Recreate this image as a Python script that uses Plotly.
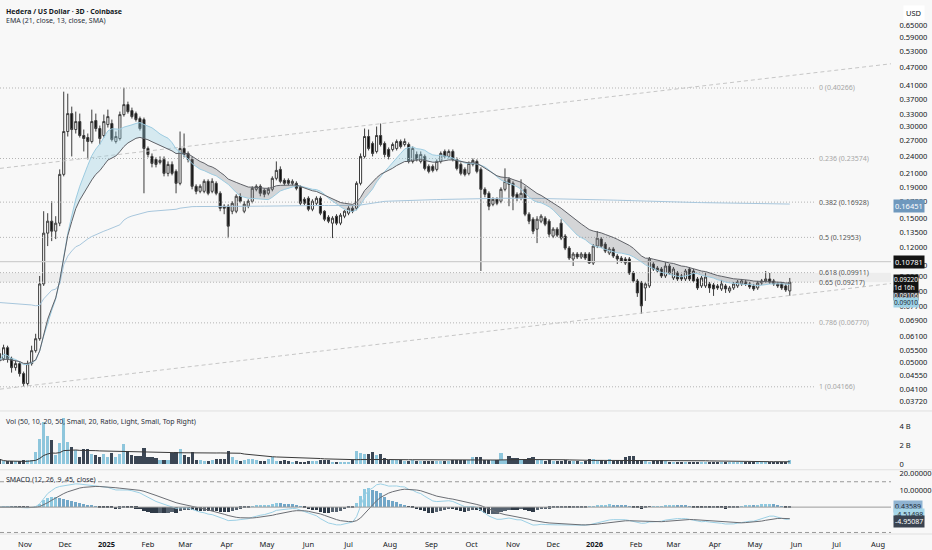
import numpy as np
import pandas as pd
import plotly.graph_objects as go
from plotly.subplots import make_subplots

# 3D candles, Coinbase HBAR/USD
opens = [
    0.05357, 0.05159, 0.05606, 0.05159, 0.04819, 0.04967, 0.04605, 0.04270, 0.04967, 0.05480,
    0.06001, 0.09096, 0.13380, 0.14649, 0.13582, 0.14429, 0.20901, 0.28935, 0.33154, 0.29375,
    0.31208, 0.28072, 0.27651, 0.26827, 0.31444, 0.29598, 0.28072, 0.30507, 0.30739, 0.26827,
    0.27442, 0.32904, 0.35490, 0.33914, 0.33154, 0.31924, 0.31683, 0.25443, 0.23950, 0.23412,
    0.22887, 0.23412, 0.21060, 0.22543, 0.21381, 0.19526, 0.25443, 0.24499, 0.23412, 0.19088,
    0.18380, 0.18380, 0.19824, 0.18380, 0.19526, 0.18104, 0.16409, 0.16409, 0.15800, 0.15800,
    0.17698, 0.15800, 0.16409, 0.17041, 0.18659, 0.19088, 0.18519, 0.18104, 0.18659, 0.20279,
    0.21706, 0.19974, 0.19974, 0.19526, 0.19526, 0.18944, 0.17301, 0.17432, 0.16040, 0.16785,
    0.17432, 0.15800, 0.15098, 0.14429, 0.15213, 0.14429, 0.15213, 0.15563, 0.16162, 0.16162,
    0.19526, 0.23950, 0.27861, 0.26424, 0.24873, 0.28072, 0.26424, 0.25251, 0.25251, 0.25443,
    0.26827, 0.26224, 0.26224, 0.23061, 0.24314, 0.23061, 0.23950, 0.22205, 0.22205, 0.21706,
    0.23061, 0.24873, 0.23950, 0.24873, 0.23412, 0.22543, 0.21706, 0.21060, 0.22543, 0.23061,
    0.21706, 0.18659, 0.18104, 0.16658, 0.17301, 0.17041, 0.18659, 0.20126, 0.19526, 0.17967,
    0.17432, 0.18659, 0.15445, 0.14871, 0.13788, 0.14649, 0.14984, 0.14649, 0.13078, 0.13788,
    0.14429, 0.13078, 0.11943, 0.10990, 0.11413, 0.11157, 0.11413, 0.11413, 0.10662, 0.12125,
    0.12784, 0.12309, 0.11500, 0.11853, 0.11242, 0.11073, 0.10990, 0.10990, 0.09885, 0.09305,
    0.09165, 0.08825, 0.08960, 0.10582, 0.10266, 0.10189, 0.09664, 0.10423, 0.09519, 0.09885,
    0.09664, 0.09447, 0.10189, 0.10036, 0.09447, 0.08960, 0.08960, 0.09096, 0.09028, 0.08960,
    0.08759, 0.08960, 0.08627, 0.08825, 0.08960, 0.09096, 0.09235, 0.09096, 0.08960, 0.08825,
    0.09165, 0.09305, 0.09447, 0.09305, 0.09096, 0.09096, 0.08960, 0.08627,
]
highs = [
    0.05564, 0.05735, 0.05692, 0.05237, 0.05081, 0.05043, 0.04676, 0.05081, 0.05692, 0.06232,
    0.09664, 0.15800, 0.15563, 0.17041, 0.15213, 0.21706, 0.39157, 0.38569, 0.34957, 0.33660,
    0.33154, 0.29375, 0.28500, 0.34172, 0.33154, 0.30277, 0.32904, 0.34172, 0.31683, 0.28935,
    0.33660, 0.40360, 0.36305, 0.34693, 0.33660, 0.32411, 0.32167, 0.25831, 0.24499, 0.23769,
    0.23950, 0.23950, 0.23061, 0.23061, 0.21706, 0.28935, 0.28500, 0.24873, 0.23950, 0.19379,
    0.19379, 0.20126, 0.20126, 0.20279, 0.19824, 0.18380, 0.16658, 0.16658, 0.17041, 0.17967,
    0.18104, 0.17041, 0.17301, 0.19088, 0.19379, 0.19379, 0.18801, 0.18944, 0.20588, 0.23061,
    0.22205, 0.20279, 0.20279, 0.20126, 0.19824, 0.19233, 0.17565, 0.17698, 0.17301, 0.17698,
    0.17698, 0.15920, 0.15329, 0.15213, 0.15445, 0.15563, 0.15920, 0.16409, 0.16409, 0.19824,
    0.24499, 0.29598, 0.29375, 0.26827, 0.30050, 0.30739, 0.26827, 0.25636, 0.26625, 0.27235,
    0.27235, 0.27442, 0.26625, 0.25831, 0.24873, 0.24873, 0.24314, 0.22543, 0.22543, 0.23412,
    0.24873, 0.25251, 0.25251, 0.25251, 0.23769, 0.22887, 0.22038, 0.23061, 0.23590, 0.23412,
    0.22038, 0.18944, 0.18380, 0.17565, 0.17565, 0.18944, 0.21871, 0.20433, 0.19824, 0.18241,
    0.20126, 0.19088, 0.15681, 0.15098, 0.15213, 0.15445, 0.15213, 0.14871, 0.13999, 0.13999,
    0.14871, 0.13277, 0.12125, 0.11587, 0.11587, 0.11587, 0.11587, 0.11587, 0.12309, 0.13582,
    0.12979, 0.12497, 0.12034, 0.12034, 0.11413, 0.11242, 0.11157, 0.11157, 0.10036, 0.09447,
    0.09305, 0.09235, 0.11157, 0.10743, 0.10423, 0.10344, 0.10825, 0.10582, 0.10344, 0.10036,
    0.09811, 0.10189, 0.10344, 0.10189, 0.09591, 0.09664, 0.09885, 0.09235, 0.09165, 0.09096,
    0.09376, 0.09096, 0.08960, 0.09235, 0.09376, 0.09447, 0.09376, 0.09235, 0.09096, 0.09305,
    0.09447, 0.10036, 0.09885, 0.09447, 0.09235, 0.09235, 0.09096, 0.09519,
]
lows = [
    0.05005, 0.05081, 0.05005, 0.04640, 0.04711, 0.04502, 0.04174, 0.04206, 0.04893, 0.05398,
    0.05911, 0.08960, 0.12125, 0.12592, 0.12784, 0.14105, 0.20588, 0.27861, 0.23950, 0.28500,
    0.27651, 0.24873, 0.23412, 0.26424, 0.28935, 0.26224, 0.27651, 0.29823, 0.26827, 0.26424,
    0.27030, 0.32411, 0.33154, 0.31924, 0.31208, 0.29154, 0.18104, 0.23769, 0.22038, 0.22038,
    0.22543, 0.20588, 0.20588, 0.20743, 0.18104, 0.19233, 0.23769, 0.22887, 0.18659, 0.17967,
    0.18104, 0.18104, 0.17832, 0.18104, 0.17832, 0.15800, 0.15445, 0.12881, 0.15445, 0.15563,
    0.16785, 0.15563, 0.16162, 0.16785, 0.18380, 0.17698, 0.17565, 0.17832, 0.18380, 0.19974,
    0.19526, 0.19233, 0.19233, 0.19233, 0.18519, 0.16533, 0.16533, 0.15800, 0.15800, 0.16533,
    0.15329, 0.14649, 0.14429, 0.12881, 0.14212, 0.14212, 0.14984, 0.15329, 0.15563, 0.15920,
    0.19233, 0.23590, 0.25060, 0.23950, 0.24499, 0.25831, 0.23769, 0.23412, 0.24873, 0.25060,
    0.25443, 0.25831, 0.22714, 0.22714, 0.23061, 0.22714, 0.21543, 0.21060, 0.21220, 0.21381,
    0.22714, 0.23590, 0.23590, 0.23061, 0.21543, 0.20743, 0.20588, 0.20743, 0.22205, 0.21060,
    0.10036, 0.17565, 0.15920, 0.16409, 0.16533, 0.16785, 0.18380, 0.16409, 0.15920, 0.17041,
    0.17170, 0.15213, 0.14320, 0.13277, 0.12403, 0.14429, 0.14105, 0.12979, 0.12881, 0.12979,
    0.12688, 0.11763, 0.10907, 0.10423, 0.10990, 0.10990, 0.10907, 0.10582, 0.10502, 0.11943,
    0.11943, 0.11500, 0.11327, 0.11073, 0.10582, 0.10662, 0.10502, 0.09737, 0.09165, 0.08244,
    0.07249, 0.07999, 0.08825, 0.10036, 0.09885, 0.09519, 0.09519, 0.09737, 0.09376, 0.09305,
    0.09305, 0.09305, 0.09305, 0.09165, 0.08693, 0.08825, 0.08825, 0.08497, 0.08307, 0.08693,
    0.08627, 0.08497, 0.08497, 0.08693, 0.08825, 0.08960, 0.08960, 0.08759, 0.08627, 0.08693,
    0.09028, 0.09165, 0.09096, 0.08960, 0.08825, 0.08693, 0.08562, 0.08307,
]
closes = [
    0.05081, 0.05606, 0.05159, 0.04819, 0.04967, 0.04605, 0.04270, 0.04967, 0.05480, 0.06001,
    0.09096, 0.13378, 0.14649, 0.13582, 0.14429, 0.20901, 0.28935, 0.33154, 0.29375, 0.31208,
    0.28072, 0.27442, 0.26827, 0.31208, 0.29598, 0.27442, 0.31208, 0.32411, 0.27235, 0.27861,
    0.32904, 0.35490, 0.33660, 0.32411, 0.31683, 0.29598, 0.25443, 0.24314, 0.22714, 0.22543,
    0.23236, 0.21060, 0.22543, 0.21060, 0.19526, 0.25443, 0.24314, 0.23412, 0.19088, 0.18380,
    0.19088, 0.19824, 0.18104, 0.19824, 0.18104, 0.16162, 0.16162, 0.14105, 0.16785, 0.17698,
    0.17041, 0.16658, 0.17041, 0.18801, 0.19088, 0.18104, 0.17967, 0.18659, 0.20279, 0.21543,
    0.19824, 0.19526, 0.19526, 0.19824, 0.18801, 0.16785, 0.16785, 0.16040, 0.17041, 0.17432,
    0.15563, 0.14871, 0.14649, 0.14984, 0.14429, 0.15329, 0.15800, 0.16162, 0.15800, 0.19526,
    0.23950, 0.27861, 0.25443, 0.24499, 0.28072, 0.26224, 0.24314, 0.23950, 0.26224, 0.26827,
    0.25831, 0.26827, 0.23061, 0.25443, 0.23412, 0.24314, 0.21871, 0.21381, 0.21543, 0.23061,
    0.24499, 0.23950, 0.24873, 0.23412, 0.21871, 0.21060, 0.20901, 0.22714, 0.23236, 0.21381,
    0.18659, 0.17967, 0.16409, 0.17301, 0.16785, 0.18659, 0.19824, 0.19379, 0.17698, 0.17432,
    0.18104, 0.15445, 0.14649, 0.13582, 0.14871, 0.15213, 0.14320, 0.13277, 0.13788, 0.13177,
    0.12881, 0.11943, 0.11073, 0.11413, 0.11157, 0.11413, 0.11073, 0.10662, 0.12125, 0.12881,
    0.12125, 0.11675, 0.11853, 0.11242, 0.10990, 0.10825, 0.10662, 0.09885, 0.09305, 0.08497,
    0.07702, 0.09096, 0.10990, 0.10189, 0.10036, 0.09664, 0.10423, 0.09885, 0.10189, 0.09447,
    0.09447, 0.10036, 0.09447, 0.09305, 0.08825, 0.09519, 0.09591, 0.08825, 0.08759, 0.08825,
    0.09096, 0.08759, 0.08825, 0.09096, 0.09235, 0.09305, 0.09096, 0.08892, 0.08759, 0.09165,
    0.09305, 0.09447, 0.09235, 0.09096, 0.08960, 0.08825, 0.08693, 0.09220,
]
# volume in billions
volumes = [
    0.52, 0.25, 0.25, 0.25, 0.25, 0.25, 0.35, 0.35, 0.42, 1.22,
    2.63, 4.38, 2.98, 2.52, 0.88, 2.21, 4.83, 2.28, 1.82, 1.47,
    0.70, 1.58, 1.58, 1.05, 0.88, 0.70, 1.05, 0.70, 1.12, 0.70,
    1.05, 2.10, 1.33, 0.88, 0.77, 0.77, 1.68, 0.70, 0.70, 0.60,
    0.42, 0.42, 0.35, 1.12, 1.22, 1.58, 0.98, 0.70, 1.22, 0.42,
    0.35, 0.28, 0.28, 0.35, 0.52, 0.52, 0.52, 1.40, 0.70, 0.35,
    0.28, 0.35, 0.52, 0.52, 0.35, 0.28, 0.28, 0.52, 0.70, 0.28,
    0.28, 0.35, 0.28, 0.18, 0.28, 0.18, 0.10, 0.28, 0.28, 0.28,
    0.35, 0.35, 0.42, 0.18, 0.18, 0.18, 0.18, 0.18, 0.42, 1.33,
    1.12, 1.05, 1.05, 1.22, 0.98, 1.05, 0.60, 0.42, 0.35, 0.35,
    0.35, 0.30, 0.30, 0.35, 0.30, 0.30, 0.28, 0.28, 0.30, 0.30,
    0.28, 0.30, 0.30, 0.35, 0.35, 0.35, 0.35, 0.35, 0.70, 0.70,
    0.70, 0.35, 0.35, 0.35, 0.35, 1.15, 0.35, 0.77, 0.60, 0.60,
    0.52, 0.52, 0.60, 0.70, 0.35, 0.35, 0.28, 0.35, 0.28, 0.28,
    0.28, 0.42, 0.28, 0.28, 0.28, 0.18, 0.28, 0.52, 0.52, 0.42,
    0.35, 0.28, 0.52, 0.28, 0.35, 0.42, 0.70, 0.77, 0.77, 0.42,
    0.35, 0.28, 0.18, 0.28, 0.28, 0.42, 0.28, 0.18, 0.18, 0.18,
    0.10, 0.18, 0.10, 0.18, 0.18, 0.18, 0.18, 0.18, 0.10, 0.18,
    0.18, 0.18, 0.18, 0.10, 0.10, 0.10, 0.10, 0.18, 0.18, 0.18,
    0.18, 0.18, 0.18, 0.18, 0.18, 0.18, 0.18, 0.35,
]

price_ticks = [0.65, 0.59, 0.53, 0.47, 0.41, 0.37, 0.33, 0.30, 0.27, 0.24, 0.21, 0.19, 0.17,
               0.15, 0.135, 0.12, 0.105, 0.096, 0.086, 0.077, 0.069, 0.061, 0.055, 0.05,
               0.0455, 0.041, 0.0372]
month_ticks = pd.date_range("2024-11-01", "2026-08-01", freq="MS")
month_labels = ["<b>%d</b>" % d.year if d.month == 1 else d.strftime("%b") for d in month_ticks]

fib_ratios = ["0", "0.236", "0.382", "0.5", "0.618", "0.65", "0.786", "1"]
fib_prices = [0.40266, 0.23574, 0.16928, 0.12953, 0.09911, 0.09217, 0.06770, 0.04166]
fib_strong = [False, False, True, True, True, True, False, False]
hline_price = 0.10781

lower_trend_dates = ["2024-10-31", "2026-02-05"]
lower_trend_prices = [0.0418, 0.0729]
upper_trend_dates = ["2024-10-13 08:00", "2026-08-10 17:00"]
upper_trend_prices = [0.2187, 0.4839]

vwap_seed_price = 0.0793
vwap_seed_volume = 45.0

x_start, x_end = pd.Timestamp("2024-10-13 08:00"), pd.Timestamp("2026-08-10 17:00")
fib_end = pd.Timestamp("2026-06-15")

dates = pd.date_range(end="2026-05-27", periods=len(closes), freq="3D")
o = pd.Series(opens, index=dates)
h = pd.Series(highs, index=dates)
l = pd.Series(lows, index=dates)
c = pd.Series(closes, index=dates)
v = pd.Series(volumes, index=dates) * 1e9

# indicators
ema21 = c.ewm(span=21, adjust=False).mean()
sma13 = c.rolling(13, min_periods=1).mean()
vol_ma = v.rolling(50, min_periods=1).mean()
typ = (h + l + c) / 3
vwap = (vwap_seed_price * vwap_seed_volume * 1e9 + (typ * v).cumsum()) / (vwap_seed_volume * 1e9 + v.cumsum())

ema12 = c.ewm(span=12, adjust=False).mean()
ema26 = c.ewm(span=26, adjust=False).mean()
sd45 = c.rolling(45, min_periods=15).std().bfill()
smacd = (ema12 - ema26) / sd45 * 22
signal = smacd.ewm(span=9, adjust=False).mean()
hist = smacd - signal

fig = make_subplots(rows=3, cols=1, shared_xaxes=True, vertical_spacing=0)

bg = "#f8f8f8"
gray_txt = "#131722"

# 0.618 - 0.65 zone
fig.add_trace(go.Scatter(x=[x_start, x_end], y=[fib_prices[4]] * 2, mode="lines",
                         line=dict(width=0), hoverinfo="skip"), row=1, col=1)
fig.add_trace(go.Scatter(x=[x_start, x_end], y=[fib_prices[5]] * 2, mode="lines",
                         line=dict(width=0), fill="tonexty", fillcolor="rgba(0,0,0,0.045)",
                         hoverinfo="skip"), row=1, col=1)
for fp in fib_prices:
    fig.add_trace(go.Scatter(x=[x_start, fib_end], y=[fp, fp], mode="lines",
                             line=dict(color="#b4b4b4", width=1, dash="1px,2px"),
                             hoverinfo="skip"), row=1, col=1)
fig.add_trace(go.Scatter(x=[x_start, x_end], y=[hline_price] * 2, mode="lines",
                         line=dict(color="#cfcfcf", width=1.2), hoverinfo="skip"), row=1, col=1)


def extend(ds, ps):
    t = pd.to_datetime(ds).astype("int64").to_numpy().astype(float)
    lp = np.log10(ps)
    k = (lp[1] - lp[0]) / (t[1] - t[0])
    ends = np.array([x_start.value, x_end.value], dtype=float)
    return [x_start, x_end], list(10 ** (lp[0] + k * (ends - t[0])))


for ds, ps in [(lower_trend_dates, lower_trend_prices), (upper_trend_dates, upper_trend_prices)]:
    xs, ys = extend(ds, ps)
    fig.add_trace(go.Scatter(x=xs, y=ys, mode="lines",
                             line=dict(color="#c6c6c6", width=1, dash="4px,3px"),
                             hoverinfo="skip"), row=1, col=1)

fig.add_trace(go.Scatter(x=dates, y=vwap, mode="lines", line=dict(color="#a7c6dc", width=1)),
              row=1, col=1)

# band: light blue while the SMA leads the EMA, gray when it trails
hi = np.maximum(sma13, ema21)
fig.add_trace(go.Scatter(x=dates, y=ema21, mode="lines", line=dict(width=0), hoverinfo="skip"),
              row=1, col=1)
fig.add_trace(go.Scatter(x=dates, y=hi, mode="lines", line=dict(width=0), fill="tonexty",
                         fillcolor="rgba(150,205,225,0.35)", hoverinfo="skip"), row=1, col=1)
fig.add_trace(go.Scatter(x=dates, y=sma13, mode="lines", line=dict(width=0), hoverinfo="skip"),
              row=1, col=1)
fig.add_trace(go.Scatter(x=dates, y=hi, mode="lines", line=dict(width=0), fill="tonexty",
                         fillcolor="rgba(120,122,130,0.28)", hoverinfo="skip"), row=1, col=1)
fig.add_trace(go.Scatter(x=dates, y=sma13, mode="lines", line=dict(color="#9ccbe0", width=1)),
              row=1, col=1)
fig.add_trace(go.Scatter(x=dates, y=ema21, mode="lines", line=dict(color="#5f6167", width=1)),
              row=1, col=1)

fig.add_trace(go.Candlestick(
    x=dates, open=o, high=h, low=l, close=c,
    increasing=dict(fillcolor="#ffffff", line=dict(color="#3c3c3c", width=1)),
    decreasing=dict(fillcolor="#0d0d0d", line=dict(color="#3c3c3c", width=1)),
    whiskerwidth=0,
), row=1, col=1)

# volume
up = (c >= o).to_numpy()
bar_w = 3 * 86400000 * 0.78
fig.add_trace(go.Bar(x=dates, y=v, width=bar_w,
                     marker=dict(color=np.where(up, "#8ec6dc", "#3b4654"), line=dict(width=0))),
              row=2, col=1)
fig.add_trace(go.Scatter(x=dates, y=vol_ma, mode="lines", line=dict(color="#3a3a3a", width=1)),
              row=2, col=1)

# SMACD
hd = hist.diff().fillna(0)
hcol = np.where(hist >= 0, np.where(hd >= 0, "#8ec9e0", "#72a7c8"),
                np.where(hd <= 0, "#2f3a47", "#56626f"))
fig.add_trace(go.Bar(x=dates, y=hist, width=bar_w, marker=dict(color=hcol, line=dict(width=0))),
              row=3, col=1)
fig.add_trace(go.Scatter(x=dates, y=smacd, mode="lines", line=dict(color="#9cd0e5", width=1)),
              row=3, col=1)
fig.add_trace(go.Scatter(x=dates, y=signal, mode="lines", line=dict(color="#6b6e74", width=1)),
              row=3, col=1)
for lv in [15, -15]:
    fig.add_trace(go.Scatter(x=[x_start, x_end], y=[lv, lv], mode="lines",
                             line=dict(color="#9a9a9a", width=1, dash="4px,3px")), row=3, col=1)
fig.add_trace(go.Scatter(x=[x_start, x_end], y=[0, 0], mode="lines",
                          line=dict(color="#9a9a9a", width=1)), row=3, col=1)

H = 534.0
fig.update_layout(
    width=932, height=550, margin=dict(l=0, r=39, t=0, b=16),
    paper_bgcolor=bg, plot_bgcolor=bg, showlegend=False, bargap=0, boxgap=0.25,
    font=dict(family="Noto Sans, Open Sans, sans-serif", size=7.5, color=gray_txt),
    hovermode=False,
)
axis_common = dict(showgrid=False, zeroline=False, showline=False)
fig.update_xaxes(range=[x_start, x_end], rangeslider_visible=False, **axis_common)
fig.update_xaxes(tickvals=month_ticks, ticktext=month_labels, showticklabels=True,
                 ticks="outside", ticklen=3, tickcolor=bg, row=3, col=1)
fig.update_yaxes(side="right", ticks="outside", ticklen=6, tickcolor=bg, **axis_common)
fig.update_yaxes(type="log", range=[np.log10(0.03481), np.log10(0.7735)],
                 tickvals=price_ticks, ticktext=["%.5f" % t for t in price_ticks],
                 domain=[1 - 410 / H, 1], row=1, col=1)
fig.update_yaxes(range=[-0.53e9, 5.58e9], tickvals=[0, 2e9, 4e9], ticktext=["0", "2 B", "4 B"],
                 domain=[1 - 469 / H, 1 - 411 / H], row=2, col=1)
fig.update_yaxes(range=[-15.9, 21.8], tickvals=[10, 20], ticktext=["10.00000", "20.00000"],
                 domain=[0, 1 - 470 / H], row=3, col=1)

# pane separators
for yy in [1 - 410.5 / H, 1 - 469.5 / H, 0]:
    fig.add_shape(type="line", xref="paper", yref="paper", x0=0, x1=1.05, y0=yy, y1=yy,
                  line=dict(color="#e0e0e0", width=1))

ann = []
ann.append(dict(xref="paper", yref="paper", x=0, y=1, xshift=4, yshift=-3, xanchor="left",
                yanchor="top", showarrow=False, text="<b>Hedera / US Dollar · 3D · Coinbase</b>",
                font=dict(size=7)))
ann.append(dict(xref="paper", yref="paper", x=0, y=1, xshift=4, yshift=-12, xanchor="left",
                yanchor="top", showarrow=False, text="EMA (21, close, 13, close, SMA)",
                font=dict(size=7, color="#2a2e39")))
ann.append(dict(xref="paper", yref="paper", x=0, y=1 - 411 / H, xshift=4, yshift=-4,
                xanchor="left", yanchor="top", showarrow=False,
                text="Vol (50, 10, 20, 50, Small, 20, Ratio, Light, Small, Top Right)",
                font=dict(size=7, color="#2a2e39")))
ann.append(dict(xref="paper", yref="paper", x=0, y=1 - 470 / H, xshift=4, yshift=-3,
                xanchor="left", yanchor="top", showarrow=False,
                text="SMACD (12, 26, 9, 45, close)", font=dict(size=7, color="#2a2e39")))
ann.append(dict(xref="paper", yref="paper", x=1, y=1, xshift=12, yshift=-3, xanchor="left",
                yanchor="top", showarrow=False, text="USD", bgcolor="#ffffff",
                borderpad=2, font=dict(size=7.5)))

for r, fp, strong in zip(fib_ratios, fib_prices, fib_strong):
    ann.append(dict(xref="x", yref="y", x=fib_end, y=np.log10(fp), xshift=2, xanchor="left",
                    yanchor="middle", showarrow=False, text="%s (%.5f)" % (r, fp),
                    font=dict(size=7, color="#555555" if strong else "#a6a6a6")))

# stacked last-value badges (TradingView pushes them apart)
badges = [
    ("0.16451", 0.16451, 0, 7.5, 1, "#6f98bd", "#ffffff"),
    ("0.10781", 0.10781, 0, 7.5, 1, "#131313", "#ffffff"),
    ("0.09106", 0.09106, -12, 6.5, 0, "#3a3d44", "#ffffff"),
    ("0.09010", 0.0901, -17, 6.5, 0, "#9fd2e6", "#1c2a36"),
    ("0.09220<br>1d 16h", 0.0922, -1, 6.5, 0, "#131313", "#ffffff"),
]
for txt, val, shift, fs, pad, bgc, fc in badges:
    ann.append(dict(xref="paper", yref="y", x=1, y=np.log10(val), xshift=2, yshift=shift,
                    xanchor="left", yanchor="middle", showarrow=False, text=txt, bgcolor=bgc,
                    borderpad=pad, align="left", font=dict(size=fs, color=fc)))
macd_badges = [
    ("0.43589", 0.43589, 0, "#8fb3d1", "#1c2a36"),
    ("-4.51498", -4.51498, 0, "#a6d6e8", "#1c2a36"),
    ("-4.95087", -4.95087, -6, "#3a4350", "#ffffff"),
]
for txt, val, shift, bgc, fc in macd_badges:
    ann.append(dict(xref="paper", yref="y3", x=1, y=val, xshift=2, yshift=shift,
                    xanchor="left", yanchor="middle", showarrow=False, text=txt, bgcolor=bgc,
                    borderpad=1, font=dict(size=7, color=fc)))
fig.update_layout(annotations=ann)

fig.write_html("out.html", config={"displayModeBar": False},
               post_script="document.body.style.margin='0px';")
